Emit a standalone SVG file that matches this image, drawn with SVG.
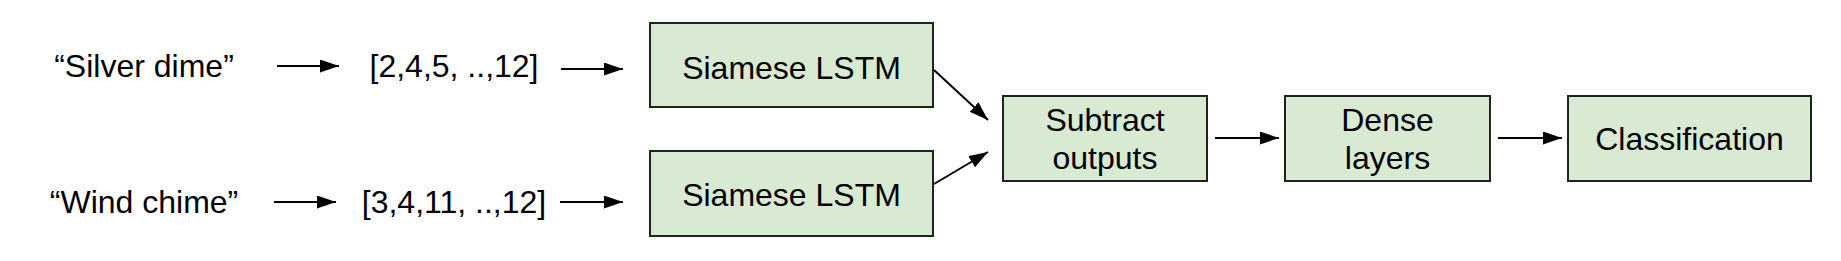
<svg xmlns="http://www.w3.org/2000/svg" width="1841" height="261" viewBox="0 0 1841 261">
<style>
text{font-family:"Liberation Sans",Arial,sans-serif;font-size:32px;fill:#000;text-anchor:middle}
.box{fill:#d9ead3;stroke:#222;stroke-width:2}
.edge{stroke:#000;stroke-width:2;fill:none;marker-end:url(#ah)}
</style>
<defs>
<marker id="ah" markerUnits="userSpaceOnUse" markerWidth="20" markerHeight="14" refX="19" refY="6.5" orient="auto">
<path d="M0,0 L19,6.5 L0,13 z" fill="#000"/>
</marker>
</defs>
<g id="connectors">
<line class="edge" x1="277" y1="66" x2="339" y2="66"/>
<line class="edge" x1="561" y1="69" x2="623" y2="69"/>
<line class="edge" x1="274" y1="202" x2="336" y2="202"/>
<line class="edge" x1="560" y1="202" x2="623" y2="202"/>
<line class="edge" x1="934" y1="70" x2="988" y2="120"/>
<line class="edge" x1="934" y1="184" x2="988" y2="152"/>
<line class="edge" x1="1215" y1="138" x2="1279" y2="138"/>
<line class="edge" x1="1498" y1="138" x2="1562" y2="138"/>
</g>
<g id="input1"><text x="144" y="77">“Silver dime”</text></g>
<g id="seq1"><text x="454" y="77">[2,4,5, ..,12]</text></g>
<g id="input2"><text x="144" y="213">“Wind chime”</text></g>
<g id="seq2"><text x="454" y="213">[3,4,11, ..,12]</text></g>
<g id="lstm1"><rect class="box" x="650" y="23" width="283" height="84"/><text x="791.5" y="79">Siamese LSTM</text></g>
<g id="lstm2"><rect class="box" x="650" y="151" width="283" height="85"/><text x="791.5" y="206">Siamese LSTM</text></g>
<g id="subtract"><rect class="box" x="1003" y="96" width="204" height="85"/><text x="1105" y="131">Subtract</text><text x="1105" y="169">outputs</text></g>
<g id="dense"><rect class="box" x="1285" y="96" width="205" height="85"/><text x="1387.5" y="131">Dense</text><text x="1387.5" y="169">layers</text></g>
<g id="classification"><rect class="box" x="1568" y="96" width="243" height="85"/><text x="1689.5" y="149.5">Classification</text></g>
</svg>
